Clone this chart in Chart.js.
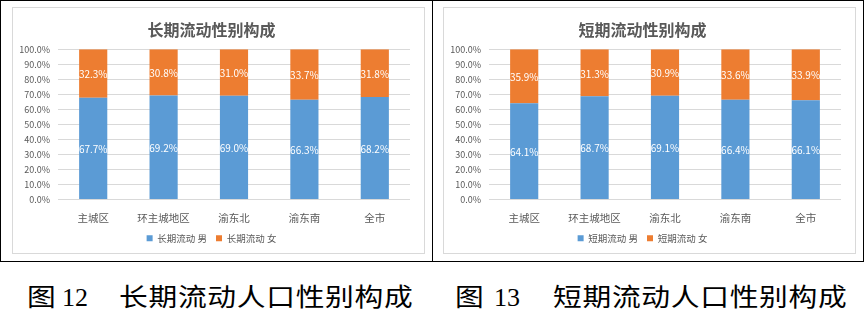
<!DOCTYPE html>
<html>
<head>
<meta charset="utf-8">
<title>流动人口性别构成</title>
<script src="https://cdn.jsdelivr.net/npm/chart.js@4.4.0/dist/chart.umd.min.js"></script>
<style>
  body { margin: 0; width: 866px; height: 327px; position: relative; overflow: hidden; background: #fff;
         font-family: "Noto Sans CJK SC", sans-serif; }
  .frame { position: absolute; left: 0; top: 0; width: 862px; height: 260px; border: 1px solid #000; }
  .divider { position: absolute; left: 432px; top: 0; width: 1px; height: 262px; background: #000; }
  .box { position: absolute; top: 7px; width: 411px; height: 245px; border: 1px solid #d9d9d9; }
  #box-long { left: 12px; }
  #box-short { left: 443px; }
  .cap { position: absolute; top: 280px; font-size: 25px; line-height: 30px; color: #000; white-space: nowrap;
         transform: scaleX(1.15); transform-origin: left center; letter-spacing: 0.6px; }
  .num { position: absolute; top: 283px; font-family: "Liberation Serif", serif; font-size: 26px; line-height: 30px; }
</style>
</head>
<body>
<div class="frame"></div>
<div class="divider"></div>
<div class="box" id="box-long"><canvas id="chart-long" width="411" height="245"></canvas></div>
<div class="box" id="box-short"><canvas id="chart-short" width="411" height="245"></canvas></div>

<div class="cap" style="left:27px">图</div>
<div class="num" style="left:62px">12</div>
<div class="cap" style="left:119px">长期流动人口性别构成</div>
<div class="cap" style="left:455px">图</div>
<div class="num" style="left:494px">13</div>
<div class="cap" style="left:553px">短期流动人口性别构成</div>

<script>
// 区域
const regions = ['主城区', '环主城地区', '渝东北', '渝东南', '全市'];

// 长期流动人口 男/女 占比 (%)
const longMale = [67.7, 69.2, 69.0, 66.3, 68.2];
const longFemale = [32.3, 30.8, 31.0, 33.7, 31.8];

// 短期流动人口 男/女 占比 (%)
const shortMale = [64.1, 68.7, 69.1, 66.4, 66.1];
const shortFemale = [35.9, 31.3, 30.9, 33.6, 33.9];

const yTicks = [0, 10, 20, 30, 40, 50, 60, 70, 80, 90, 100];

const BLUE = '#5b9bd5';
const ORANGE = '#ed7d31';
const GREY_TEXT = '#595959';
const FONT = '"Noto Sans CJK SC", sans-serif';

// 在每段柱子中间写上百分比
const segmentLabels = {
    id: 'segmentLabels',
    afterDatasetsDraw(chart) {
        const ctx = chart.ctx;
        ctx.save();
        ctx.font = '10px ' + FONT;
        ctx.fillStyle = '#fff';
        ctx.textAlign = 'center';
        ctx.textBaseline = 'middle';
        chart.data.datasets.forEach((ds, i) => {
            chart.getDatasetMeta(i).data.forEach((bar, j) => {
                const p = bar.getProps(['x', 'y', 'base'], true);
                ctx.fillText(ds.data[j].toFixed(1) + '%', p.x, (p.y + p.base) / 2 + 1);
            });
        });
        ctx.restore();
    }
};

function drawChart(canvasId, title, maleLabel, femaleLabel, male, female) {
    const ctx = document.getElementById(canvasId).getContext('2d');
    new Chart(ctx, {
        type: 'bar',
        data: {
            labels: regions,
            datasets: [
                { label: maleLabel, data: male, backgroundColor: BLUE, borderWidth: 0,
                  barPercentage: 0.4, categoryPercentage: 1 },
                { label: femaleLabel, data: female, backgroundColor: ORANGE, borderWidth: 0,
                  barPercentage: 0.4, categoryPercentage: 1 }
            ]
        },
        options: {
            responsive: false,
            animation: false,
            layout: { padding: { left: 0, right: 14, top: 0, bottom: 0 } },
            scales: {
                x: {
                    stacked: true,
                    grid: { display: false, drawTicks: false },
                    border: { display: false },
                    afterFit: scale => { scale.height = 25; },
                    ticks: { color: GREY_TEXT, font: { family: FONT, size: 10.5 }, padding: 12 }
                },
                y: {
                    stacked: true,
                    min: 0,
                    max: 100,
                    afterBuildTicks: scale => { scale.ticks = yTicks.map(v => ({ value: v })); },
                    afterFit: scale => { scale.width = 45; },
                    grid: { color: '#d9d9d9', drawTicks: false },
                    border: { display: false },
                    ticks: {
                        autoSkip: false,
                        color: GREY_TEXT,
                        font: { family: FONT, size: 9 },
                        padding: 8,
                        callback: v => v.toFixed(1) + '%'
                    }
                }
            },
            plugins: {
                title: {
                    display: true,
                    text: title,
                    color: GREY_TEXT,
                    font: { family: FONT, size: 16, weight: 'bold' },
                    padding: { top: 12, bottom: 10 }
                },
                legend: {
                    position: 'bottom',
                    maxHeight: 29,
                    labels: {
                        boxWidth: 6,
                        boxHeight: 6,
                        padding: 9,
                        color: GREY_TEXT,
                        font: { family: FONT, size: 9.5 }
                    }
                },
                tooltip: { enabled: false }
            }
        },
        plugins: [segmentLabels]
    });
}

drawChart('chart-long', '长期流动性别构成', '长期流动 男', '长期流动 女', longMale, longFemale);
drawChart('chart-short', '短期流动性别构成', '短期流动 男', '短期流动 女', shortMale, shortFemale);
</script>
</body>
</html>
